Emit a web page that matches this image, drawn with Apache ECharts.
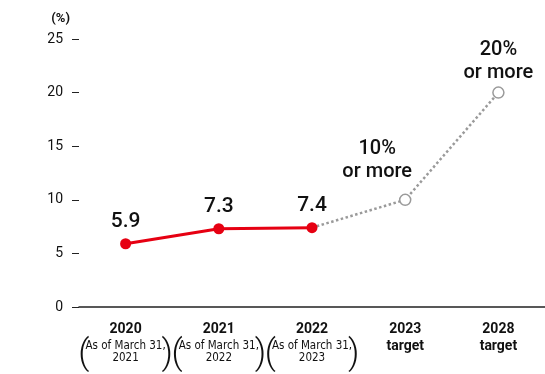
<!DOCTYPE html>
<html>
<head>
<meta charset="utf-8">
<script src="https://cdn.jsdelivr.net/npm/echarts@6/dist/echarts.min.js"></script>
<style>
  html, body { margin: 0; padding: 0; background: #fff; }
  #chart { width: 545px; height: 374px; }
</style>
</head>
<body>
<div id="chart"></div>
<script>
// Fiscal years on the category axis
const years = ['2020', '2021', '2022', '2023', '2028'];
// Second line under each year: reference date, or "target"
const subNotes = ['As of March 31,\n2021', 'As of March 31,\n2022', 'As of March 31,\n2023', 'target', 'target'];
// Actual results (%)
const actual = [5.9, 7.3, 7.4, null, null];
// Targets (%), starting from the latest actual
const targets = [null, null, 7.4, 10, 20];
// Value-axis ticks
const yMax = 25;
const yStep = 5;

const condensed = '"Liberation Sans Narrow", "DejaVu Sans Condensed", sans-serif';
const mainFont = 'Roboto, "Noto Sans", sans-serif';

const chart = echarts.init(document.getElementById('chart'), null, { renderer: 'canvas' });

chart.setOption({
  animation: false,
  grid: { left: 79, right: 0, top: 39, bottom: 67 },
  xAxis: [
    {
      type: 'category',
      data: years,
      position: 'bottom',
      boundaryGap: true,
      axisLine: { show: true, lineStyle: { color: '#222', width: 1.5 } },
      axisTick: { show: false },
      axisLabel: {
        margin: 13,
        interval: 0,
        formatter: (v, i) => {
          const note = subNotes[i];
          if (note === 'target') return '{y|' + v + '}\n{t|target}';
          const parts = note.split('\n');
          return '{y|' + v + '}\n{s|' + parts[0] + '}\n{s2|' + parts[1] + '}';
        },
        rich: {
          y: { fontFamily: mainFont, fontWeight: 'bold', fontSize: 14, color: '#111', lineHeight: 18 },
          t: { fontFamily: mainFont, fontWeight: 'bold', fontSize: 14, color: '#111', lineHeight: 16 },
          s: { fontFamily: condensed, fontSize: 11.5, color: '#111', lineHeight: 14, padding: [2, 0, 0, 0] },
          s2: { fontFamily: condensed, fontSize: 11.5, color: '#111', lineHeight: 13 }
        }
      }
    },
    {
      // Large brackets around the reference-date notes
      type: 'category',
      data: years,
      position: 'bottom',
      boundaryGap: true,
      axisLine: { show: false },
      axisTick: { show: false },
      axisLabel: {
        margin: 29,
        interval: 0,
        formatter: (v, i) => subNotes[i] === 'target' ? '' : '{p|(}{g|}{p|)}',
        rich: {
          p: { fontFamily: mainFont, fontWeight: 300, fontSize: 35, color: '#111', lineHeight: 38 },
          g: { width: 72 }
        }
      }
    }
  ],
  yAxis: {
    type: 'value',
    min: 0,
    max: yMax,
    interval: yStep,
    name: '(%)',
    nameLocation: 'end',
    nameGap: 14,
    nameTextStyle: { fontFamily: mainFont, fontSize: 13, fontWeight: 'bold', color: '#111', align: 'right', padding: [0, 9, 0, 0] },
    axisLine: { show: false },
    axisTick: { show: true, length: 7, lineStyle: { color: '#222', width: 1 } },
    splitLine: { show: false },
    axisLabel: { margin: 16, fontFamily: mainFont, fontSize: 14, color: '#111' }
  },
  series: [
    {
      name: 'target',
      type: 'line',
      data: targets.map((v, i) => (i === 2 ? { value: v, symbol: 'none', label: { show: false } } : v)),
      z: 2,
      lineStyle: { color: '#9a9a9a', width: 2.5, type: 'dotted' },
      symbol: 'circle',
      symbolSize: 11,
      itemStyle: { color: '#fff', borderColor: '#9a9a9a', borderWidth: 1.5 },
      label: {
        show: true,
        position: 'top',
        distance: 10,
        fontFamily: mainFont,
        fontSize: 20,
        fontWeight: 500,
        lineHeight: 23,
        color: '#111',
        formatter: p => p.value + '%\nor more'
      },
      labelLayout: params => params.dataIndex === 3 ? { dx: -28 } : { dy: 8 },
      emphasis: { disabled: true }
    },
    {
      name: 'actual',
      type: 'line',
      data: actual,
      z: 3,
      lineStyle: { color: '#e60012', width: 3 },
      symbol: 'circle',
      symbolSize: 11,
      itemStyle: { color: '#e60012' },
      label: {
        show: true,
        position: 'top',
        distance: 6,
        fontFamily: mainFont,
        fontSize: 21,
        fontWeight: 500,
        color: '#111',
        formatter: p => p.value.toFixed(1)
      },
      emphasis: { disabled: true }
    }
  ]
});
</script>
</body>
</html>
